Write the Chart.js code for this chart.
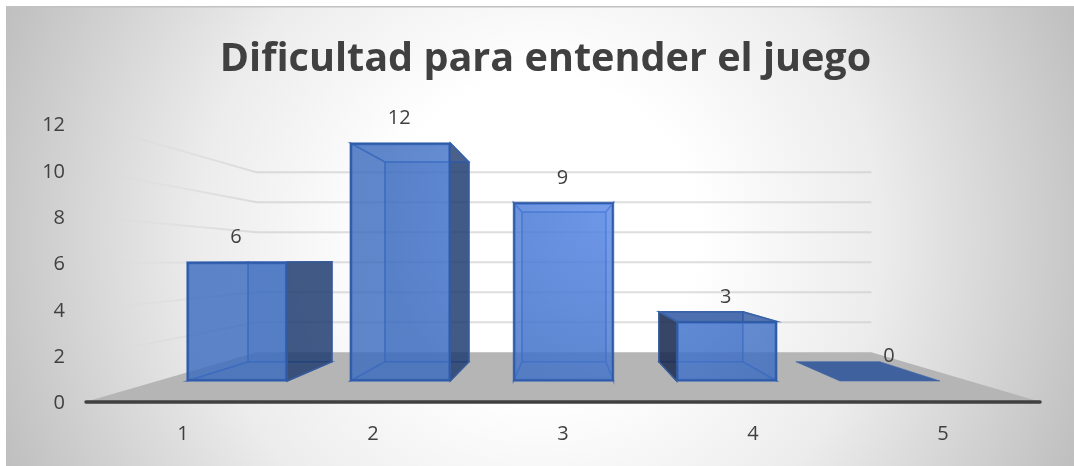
<!DOCTYPE html>
<html>
<head>
<meta charset="utf-8">
<style>html,body{margin:0;padding:0;background:#fff}canvas{display:block}</style>
<script src="https://cdn.jsdelivr.net/npm/chart.js@4"></script>
</head>
<body>
<canvas id="c" width="1074" height="466"></canvas>
<script>
const titleText = "Dificultad para entender el juego";
const categories = ["1", "2", "3", "4", "5"];
const values = [6, 12, 9, 3, 0];
const yTicks = [0, 2, 4, 6, 8, 10, 12];

const FONT = "Open Sans";
const VP = {x: 566, y: 261};       // vanishing point of the 3D view
const WALL_K = 0.647, BAR_K = 0.839;
const back = (x, y, k) => [VP.x + (x - VP.x) * k, VP.y + (y - VP.y) * k];

function poly(ctx, pts, fill, stroke, lw) {
  ctx.beginPath();
  pts.forEach((p, i) => i ? ctx.lineTo(p[0], p[1]) : ctx.moveTo(p[0], p[1]));
  ctx.closePath();
  if (fill) { ctx.fillStyle = fill; ctx.fill(); }
  if (stroke) { ctx.strokeStyle = stroke; ctx.lineWidth = lw || 1.5; ctx.stroke(); }
}

const scene = {
  id: "scene",
  beforeDraw(chart) {
    const ctx = chart.ctx, W = chart.width, H = chart.height;
    ctx.save();
    ctx.fillStyle = "#fff";
    ctx.fillRect(0, 0, W, H);
    const g = ctx.createRadialGradient(540, 236, 0, 540, 236, 590);
    g.addColorStop(0, "#ffffff");
    g.addColorStop(0.27, "#ffffff");
    g.addColorStop(0.58, "#ececec");
    g.addColorStop(1, "#bdbdbd");
    ctx.fillStyle = g;
    ctx.fillRect(6, 6, W - 6, H - 6);
    ctx.fillStyle = "#c2c2c2";
    ctx.fillRect(6, 6, W - 6, 1.5);
    ctx.restore();
  },
  beforeDatasetsDraw(chart) {
    const ctx = chart.ctx, y = chart.scales.y, area = chart.chartArea;
    ctx.save();
    // floor
    const f0 = y.getPixelForValue(0);
    poly(ctx, [[area.left - 3, f0], back(area.left, f0, WALL_K), back(area.right, f0, WALL_K), [area.right + 3, f0]], "#b5b5b5");
    // walls
    ctx.lineWidth = 2;
    const wallFade = ctx.createLinearGradient(area.left + 8, 0, back(area.left, 0, WALL_K)[0], 0);
    wallFade.addColorStop(0, "rgba(215,215,215,0)");
    wallFade.addColorStop(1, "rgba(205,205,205,0.65)");
    yTicks.filter(t => t > 0).forEach(t => {
      const py = y.getPixelForValue(t);
      const a = back(area.left, py, WALL_K), b = back(area.right, py, WALL_K);
      ctx.strokeStyle = wallFade;
      ctx.beginPath();
      ctx.moveTo(area.left + 8, py + (a[1] - py) * 8 / (a[0] - area.left));
      ctx.lineTo(a[0], a[1]);
      ctx.stroke();
      ctx.strokeStyle = "rgba(205,205,205,0.65)";
      ctx.beginPath();
      ctx.moveTo(a[0], a[1]);
      ctx.lineTo(b[0], b[1]);
      ctx.stroke();
    });
    // hidden faces of the bars
    const meta = chart.getDatasetMeta(0);
    const edge = "rgba(52,100,188,0.7)";
    meta.data.forEach(bar => {
      const p = bar.getProps(["x", "y", "base", "width"], true);
      const L = p.x - p.width / 2, R = p.x + p.width / 2, T = p.y, B = p.base;
      const bTL = back(L, T, BAR_K), bTR = back(R, T, BAR_K), bBL = back(L, B, BAR_K), bBR = back(R, B, BAR_K);
      const fTL = [L, T], fTR = [R, T], fBL = [L, B], fBR = [R, B];
      if (T < B) {
        poly(ctx, [bTL, bTR, bBR, bBL], "rgba(63,112,196,0.25)", edge, 1.5);
        poly(ctx, [fBL, fBR, bBR, bBL], "rgba(50,95,180,0.1)", edge, 1.5);
        if (bBL[0] > L) poly(ctx, [fTL, bTL, bBL, fBL], null, edge, 1.5);
        if (bBR[0] < R) poly(ctx, [fTR, bTR, bBR, fBR], null, edge, 1.5);
        if (bTR[0] > R) poly(ctx, [fTR, bTR, bBR, fBR], "rgba(30,58,108,0.8)", "#3a5c98", 1.5);
        if (bTL[0] < L) poly(ctx, [fTL, bTL, bBL, fBL], "rgba(28,42,78,0.85)", "#3a5c98", 1.5);
        if (bTL[1] > T) poly(ctx, [fTL, fTR, bTR, bTL], null, edge, 1.5);
        else if (bTL[1] < T - 1) poly(ctx, [fTL, fTR, bTR, bTL], "rgba(45,85,160,0.8)", "#3a63a8", 1.5);
      } else {
        poly(ctx, [fTL, fTR, bTR, bTL], "rgba(50,88,155,0.9)", "rgba(60,100,170,0.6)", 1);
      }
    });
    ctx.restore();
  },
  afterDatasetsDraw(chart) {
    const ctx = chart.ctx, y = chart.scales.y, area = chart.chartArea;
    ctx.save();
    // front axis line
    const f0 = y.getPixelForValue(0);
    ctx.strokeStyle = "#404040";
    ctx.lineWidth = 3.5;
    ctx.lineCap = "round";
    ctx.beginPath();
    ctx.moveTo(area.left - 2, f0);
    ctx.lineTo(area.right + 2, f0);
    ctx.stroke();
    // data labels
    ctx.fillStyle = "#404040";
    ctx.font = "20px '" + FONT + "'";
    ctx.textAlign = "center";
    ctx.textBaseline = "middle";
    chart.getDatasetMeta(0).data.forEach((bar, i) => {
      ctx.fillText(String(values[i]), bar.x - 1, bar.y - 24.5);
    });
    ctx.restore();
  }
};

new Chart(document.getElementById("c"), {
  type: "bar",
  plugins: [scene],
  data: {
    labels: categories,
    datasets: [{
      data: values.map((v, i) => ({x: i + 1, y: v})),
      xAxisID: "xBar",
      yAxisID: "yBar",
      barThickness: 100,
      borderWidth: 1.8,
      borderColor: "#2f5aa5",
      borderSkipped: false,
      backgroundColor(c) {
        const ctx = c.chart.ctx;
        const g = ctx.createRadialGradient(610, 215, 0, 610, 215, 230);
        g.addColorStop(0, "rgba(88,136,230,0.82)");
        g.addColorStop(1, "rgba(60,108,190,0.82)");
        return g;
      }
    }]
  },
  options: {
    responsive: false,
    animation: false,
    layout: {padding: {left: 17, right: 0, top: 0, bottom: 0}},
    plugins: {
      legend: {display: false},
      tooltip: {enabled: false},
      title: {
        display: true,
        text: titleText,
        color: "#404040",
        font: {family: FONT, size: 39.6, weight: "bold", lineHeight: 1.2},
        padding: {top: 36, bottom: 40.5}
      }
    },
    scales: {
      x: {
        type: "category",
        offset: true,
        grid: {display: false, drawTicks: false},
        border: {display: false},
        ticks: {color: "#404040", font: {family: FONT, size: 20}, padding: 20, maxRotation: 0},
        afterFit(s) { s.height = 64; }
      },
      y: {
        position: "left",
        min: 0,
        max: 12,
        grid: {display: false, drawTicks: false},
        border: {display: false},
        ticks: {color: "#404040", font: {family: FONT, size: 20}, padding: 23, stepSize: 2, labelOffset: 1.5},
        afterFit(s) { s.width = 71; }
      },
      xBar: {type: "linear", display: false, offset: false, min: 0.087, max: 5.907, grid: {display: false}},
      yBar: {
        type: "linear",
        position: "right",
        min: -1.059,
        max: 12.958,
        grid: {display: false, drawTicks: false},
        border: {display: false},
        ticks: {display: false},
        afterFit(s) { s.width = 36; }
      }
    }
  }
});
</script>
</body>
</html>
